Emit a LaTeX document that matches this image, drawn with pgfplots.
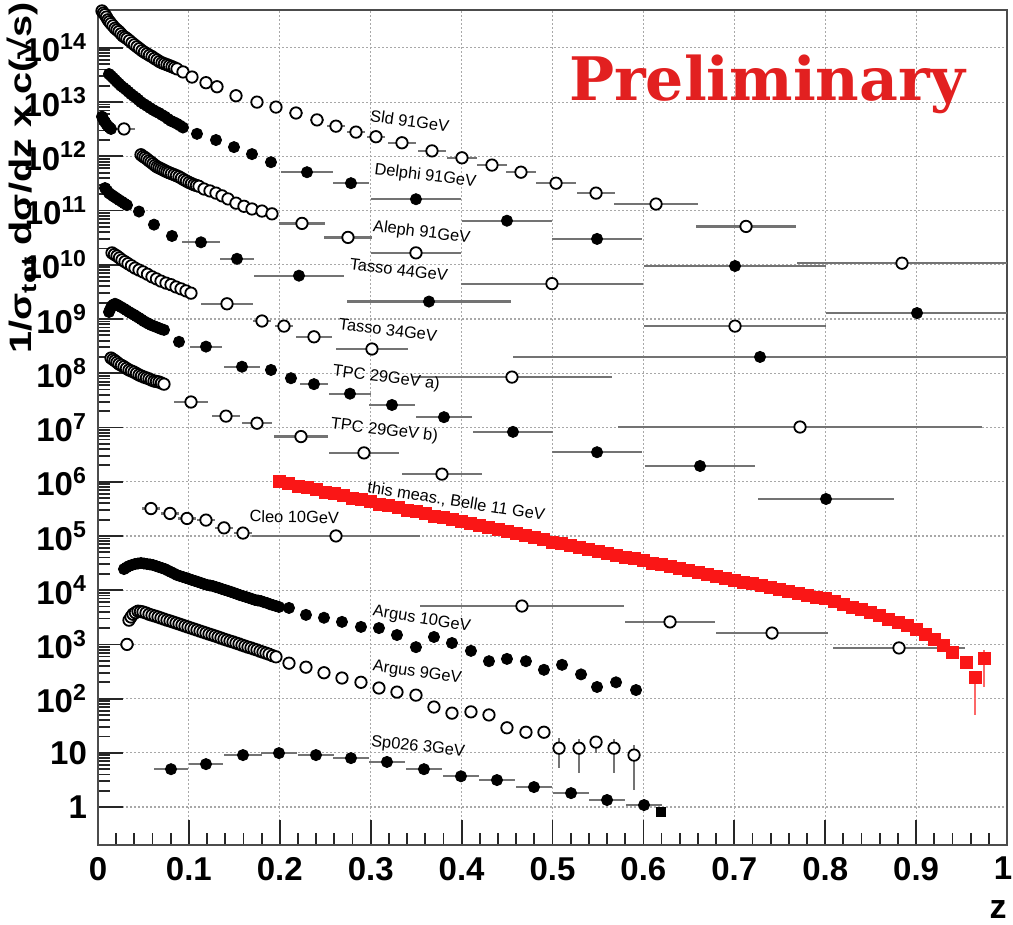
\documentclass[border=0pt]{standalone}
\usepackage{fontspec}
\setmainfont{Liberation Sans}
\newfontfamily\slabfont{DejaVu Serif}
\usepackage{graphicx}
\usepackage{pgfplots}
\pgfplotsset{compat=1.18}

\definecolor{barcol}{gray}{0.45}
\definecolor{bellered}{RGB}{250,22,22}
\definecolor{prelimred}{RGB}{226,32,32}
\definecolor{gridcol}{gray}{0.66}

\pgfplotsset{
  xerrbars/.style={error bars/x dir=both, error bars/x explicit, error bars/error mark=none,
    error bars/error bar style={barcol, line width=1.1pt}},
  opendot/.style={only marks, mark=*, mark size=2.85pt,
    mark options={fill=white, draw=black, line width=0.9pt}, xerrbars},
  filldot/.style={only marks, mark=*, mark size=2.8pt,
    mark options={fill=black, draw=black, line width=0.4pt}, xerrbars},
}
\newcommand\lbl{\fontsize{8.2}{9.6}\selectfont}
\newcommand\bigbf{\fontsize{16.5}{18}\selectfont\bfseries}

\begin{document}
\begin{tikzpicture}
\begin{axis}[
  scale only axis, width=454.5pt, height=417.5pt,
  xmin=0, xmax=1, ymode=log, ymin=0.2, ymax=5e14,
  xtick={0,0.1,0.2,0.3,0.4,0.5,0.6,0.7,0.8,0.9,1},
  xticklabels={0,0.1,0.2,0.3,0.4,0.5,0.6,0.7,0.8,0.9,\hspace*{-4pt}1},
  minor x tick num=4,
  ytick={1,10,100,1e3,1e4,1e5,1e6,1e7,1e8,1e9,1e10,1e11,1e12,1e13,1e14},
  yticklabels={1,10,10\textsuperscript{2},10\textsuperscript{3},10\textsuperscript{4},
    10\textsuperscript{5},10\textsuperscript{6},10\textsuperscript{7},10\textsuperscript{8},
    10\textsuperscript{9},10\textsuperscript{10},10\textsuperscript{11},10\textsuperscript{12},
    10\textsuperscript{13},10\textsuperscript{14}},
  tick pos=left, tick align=inside,
  major tick length=12.5pt, minor tick length=6pt,
  tick style={black!85, line width=0.9pt},
  axis line style={black!70, line width=1.1pt},
  grid=major, major grid style={gridcol, line width=0.6pt, dash pattern=on 1pt off 1pt},
  tick label style={font=\bigbf},
  xticklabel style={yshift=-2.5pt},
  yticklabel style={xshift=-2pt},
]
\coordinate (bbsw) at (rel axis cs:0,0);
\coordinate (bbne) at (rel axis cs:1,1);

% Sld 91 GeV
\addplot[opendot] coordinates {
 (0.0044,4.8e14) (0.0060,4.4e14) (0.0077,4.1e14) (0.0093,3.7e14) (0.0110,3.3e14)
 (0.0126,3.05e14) (0.0143,2.8e14) (0.0165,2.55e14) (0.0187,2.3e14) (0.0209,2.15e14)
 (0.0231,2.0e14) (0.0253,1.82e14) (0.0275,1.66e14) (0.0297,1.57e14) (0.0319,1.48e14)
 (0.0346,1.36e14) (0.0374,1.24e14) (0.0401,1.14e14) (0.0429,1.05e14) (0.0456,9.7e13)
 (0.0484,8.9e13) (0.0511,8.3e13) (0.0539,7.8e13) (0.0566,7.3e13) (0.0594,6.9e13)
 (0.0621,6.4e13) (0.0649,6.0e13) (0.0676,5.6e13) (0.0704,5.3e13) (0.0731,5.1e13)
 (0.0759,4.9e13) (0.0786,4.7e13) (0.0814,4.5e13) (0.0841,4.3e13) (0.0869,4.1e13)
 (0.0935,3.6e13) (0.1034,2.9e13)
 (0.1188,2.28e13) (0.1309,1.92e13) (0.1518,1.31e13) (0.1749,1.0e13) (0.1958,8.1e12)
 (0.2178,6.3e12) +- (0.008,0) (0.2409,4.7e12) +- (0.008,0) (0.2618,3.6e12) +- (0.01,0)
 (0.2838,2.8e12) +- (0.01,0) (0.3058,2.3e12) +- (0.01,0) (0.3344,1.78e12) +- (0.015,0)
 (0.3674,1.26e12) +- (0.015,0) (0.4004,9.4e11) +- (0.017,0) (0.4334,6.9e11) +- (0.016,0)
 (0.4653,5.1e11) +- (0.016,0) (0.5039,3.2e11) +- (0.022,0) (0.5479,2.1e11) +- (0.021,0)
 (0.6139,1.32e11) +- (0.046,0) (0.7129,5.1e10) +- (0.055,0) (0.8845,1.07e10) +- (0.115,0)
};
% Delphi 91 GeV
\addplot[filldot] coordinates {
 (0.0121,3.3e13) (0.0143,3.05e13) (0.0165,2.8e13) (0.0187,2.58e13) (0.0209,2.36e13)
 (0.0231,2.18e13) (0.0253,2.0e13) (0.0280,1.85e13) (0.0308,1.7e13) (0.0335,1.55e13)
 (0.0363,1.41e13) (0.0390,1.3e13) (0.0418,1.2e13) (0.0445,1.1e13) (0.0473,1.0e13)
 (0.0506,9.2e12) (0.0539,8.5e12) (0.0572,7.8e12) (0.0605,7.2e12) (0.0638,6.7e12)
 (0.0671,6.3e12) (0.0704,5.8e12) (0.0737,5.4e12) (0.0770,4.9e12) (0.0803,4.5e12)
 (0.0836,4.25e12) (0.0869,4.0e12) (0.0902,3.7e12) (0.0935,3.4e12)
 (0.1089,2.6e12) (0.1298,2.0e12) (0.1496,1.48e12) (0.1694,1.1e12) (0.1903,7.8e11)
 (0.2299,5.1e11) +- (0.029,0) (0.2783,3.2e11) +- (0.02,0) (0.3498,1.62e11) +- (0.05,0)
 (0.4499,6.5e10) +- (0.05,0) (0.5490,3.0e10) +- (0.05,0) (0.7008,9.5e9) +- (0.1,0)
 (0.9010,1.29e9) +- (0.1,0)
};
% low-z points near 10^12
\addplot[filldot] coordinates {
 (0.0044,5.4e12) (0.0060,4.8e12) (0.0077,4.3e12) (0.0093,3.9e12) (0.0110,3.6e12)
 (0.0126,3.4e12) (0.0143,3.2e12)
};
\addplot[opendot] coordinates { (0.0286,3.2e12) +- (0.012,0) };
% Aleph 91 GeV
\addplot[opendot] coordinates {
 (0.0473,1.07e12) (0.0495,1.0e12) (0.0517,9.5e11) (0.0539,8.9e11) (0.0561,8.3e11)
 (0.0583,7.8e11) (0.0605,7.3e11) (0.0627,6.8e11) (0.0649,6.4e11) (0.0671,6.15e11)
 (0.0693,5.9e11) (0.0715,5.65e11) (0.0737,5.4e11) (0.0759,5.2e11) (0.0781,5.0e11)
 (0.0808,4.8e11) (0.0836,4.6e11) (0.0863,4.4e11) (0.0891,4.2e11) (0.0918,3.95e11)
 (0.0946,3.7e11) (0.0973,3.5e11) (0.1001,3.3e11) (0.1028,3.15e11) (0.1056,3.0e11)
 (0.1083,2.9e11) (0.1111,2.8e11) (0.1166,2.5e11)
 (0.1232,2.3e11) (0.1298,2.1e11) (0.1364,1.87e11) (0.1430,1.64e11) (0.1518,1.37e11)
 (0.1606,1.2e11) (0.1694,1.07e11) (0.1804,9.8e10) (0.1914,8.7e10)
 (0.2244,5.8e10) +- (0.025,0) (0.2750,3.2e10) +- (0.026,0) (0.3498,1.66e10) +- (0.05,0)
 (0.4994,4.5e9) +- (0.1,0) (0.7008,7.4e8) +- (0.1,0)
};
% Tasso 44 GeV
\addplot[filldot] coordinates {
 (0.0077,2.6e11) (0.0099,2.35e11) (0.0121,2.1e11) (0.0143,1.98e11) (0.0165,1.86e11)
 (0.0187,1.76e11) (0.0209,1.66e11) (0.0236,1.55e11) (0.0264,1.45e11) (0.0291,1.35e11)
 (0.0319,1.26e11) (0.0451,9.6e10) (0.0616,5.5e10) (0.0814,3.4e10)
 (0.1133,2.6e10) +- (0.021,0) (0.1529,1.29e10) +- (0.019,0) (0.2211,6.3e9) +- (0.05,0)
 (0.3641,2.1e9) +- (0.09,0) (0.7283,2.0e8) +- (0.272,0)
};
% Tasso 34 GeV
\addplot[opendot] coordinates {
 (0.0154,1.66e10) (0.0181,1.55e10) (0.0209,1.45e10) (0.0236,1.34e10) (0.0264,1.23e10)
 (0.0297,1.14e10) (0.0330,1.05e10) (0.0368,9.6e9) (0.0407,8.7e9) (0.0451,8.0e9)
 (0.0495,7.4e9) (0.0544,6.7e9) (0.0594,6.0e9) (0.0643,5.5e9) (0.0693,5.0e9)
 (0.0748,4.6e9) (0.0803,4.3e9) (0.0858,3.9e9) (0.0913,3.6e9) (0.0968,3.3e9)
 (0.1023,3.0e9) (0.1419,1.91e9) +- (0.029,0) (0.1804,9.2e8) +- (0.01,0)
 (0.2046,7.4e8) +- (0.01,0) (0.2376,4.7e8) +- (0.02,0) (0.3014,2.8e8) +- (0.04,0)
 (0.4554,8.5e7) +- (0.11,0) (0.7723,1.02e7) +- (0.2,0)
};
% TPC 29 GeV a)
\addplot[filldot] coordinates {
 (0.0121,1.35e9) (0.0137,1.55e9) (0.0154,1.74e9) (0.0170,1.84e9) (0.0187,1.91e9)
 (0.0209,1.84e9) (0.0231,1.74e9) (0.0258,1.65e9) (0.0286,1.55e9) (0.0313,1.45e9)
 (0.0341,1.35e9) (0.0368,1.27e9) (0.0396,1.2e9) (0.0423,1.12e9) (0.0451,1.05e9)
 (0.0478,9.8e8) (0.0506,9.1e8) (0.0533,8.6e8) (0.0561,8.1e8) (0.0588,7.7e8)
 (0.0616,7.4e8) (0.0643,7.1e8) (0.0671,6.8e8) (0.0698,6.5e8) (0.0726,6.3e8)
 (0.0891,3.8e8)
 (0.1188,3.1e8) +- (0.018,0) (0.1584,1.32e8) +- (0.02,0) (0.1903,1.15e8) (0.2123,8.1e7)
 (0.2376,6.3e7) +- (0.015,0) (0.2772,4.2e7) +- (0.023,0) (0.3234,2.6e7) +- (0.025,0)
 (0.3806,1.55e7) +- (0.031,0) (0.4565,8.3e6) +- (0.044,0) (0.5490,3.5e6) +- (0.05,0)
 (0.6623,1.95e6) +- (0.06,0) (0.8009,4.8e5) +- (0.075,0)
};
% TPC 29 GeV b)
\addplot[opendot] coordinates {
 (0.0143,1.91e8) (0.0165,1.8e8) (0.0187,1.7e8) (0.0209,1.59e8) (0.0231,1.48e8)
 (0.0258,1.4e8) (0.0286,1.32e8) (0.0313,1.23e8) (0.0341,1.15e8) (0.0368,1.1e8)
 (0.0396,1.05e8) (0.0423,9.9e7) (0.0451,9.3e7) (0.0478,8.9e7) (0.0506,8.5e7)
 (0.0533,8.2e7) (0.0561,7.9e7) (0.0588,7.5e7) (0.0616,7.2e7) (0.0643,7.05e7)
 (0.0671,6.9e7) (0.0698,6.6e7) (0.0726,6.3e7)
 (0.1023,2.95e7) +- (0.019,0) (0.1408,1.62e7) +- (0.015,0) (0.1749,1.2e7) +- (0.017,0)
 (0.2233,6.8e6) +- (0.03,0) (0.2926,3.4e6) +- (0.038,0) (0.3784,1.38e6) +- (0.044,0)
};
% Cleo 10 GeV
\addplot[opendot] coordinates {
 (0.0583,3.2e5) +- (0.01,0) (0.0792,2.6e5) +- (0.01,0) (0.0979,2.1e5) +- (0.01,0)
 (0.1188,1.96e5) +- (0.01,0) (0.1386,1.41e5) +- (0.01,0) (0.1595,1.13e5) +- (0.01,0)
 (0.2618,1.0e5) +- (0.092,0) (0.4664,5.1e3) +- (0.112,0) (0.6293,2.6e3) +- (0.05,0)
 (0.7415,1.62e3) +- (0.062,0) (0.8812,8.6e2) +- (0.073,0)
};
% Argus 10 GeV
\addplot[filldot] coordinates {
 (0.0286,2.45e4) (0.0313,2.62e4) (0.0341,2.79e4) (0.0374,2.92e4) (0.0407,3.04e4)
 (0.0440,3.1e4) (0.0473,3.17e4) (0.0506,3.1e4) (0.0539,3.04e4) (0.0572,2.98e4)
 (0.0605,2.91e4) (0.0638,2.79e4) (0.0671,2.67e4) (0.0704,2.56e4) (0.0737,2.45e4)
 (0.0770,2.3e4) (0.0803,2.16e4) (0.0836,2.03e4) (0.0869,1.9e4) (0.0902,1.82e4)
 (0.0935,1.75e4) (0.0968,1.68e4) (0.1001,1.61e4) (0.1034,1.54e4) (0.1067,1.48e4)
 (0.1100,1.42e4) (0.1133,1.36e4) (0.1166,1.3e4) (0.1199,1.25e4) (0.1232,1.22e4)
 (0.1265,1.19e4) (0.1298,1.14e4) (0.1331,1.1e4) (0.1364,1.05e4) (0.1397,1.01e4)
 (0.1430,9.7e3) (0.1463,9.3e3) (0.1496,8.9e3) (0.1529,8.5e3) (0.1562,8.1e3)
 (0.1595,7.8e3) (0.1628,7.5e3) (0.1661,7.2e3) (0.1694,6.9e3) (0.1727,6.6e3)
 (0.1760,6.45e3) (0.1793,6.3e3) (0.1826,6.0e3) (0.1859,5.8e3) (0.1892,5.5e3)
 (0.1925,5.3e3) (0.1958,5.1e3) (0.1991,4.9e3) (0.2101,4.7e3) (0.2288,3.5e3)
 (0.2486,3.1e3) (0.2684,2.6e3) (0.2893,2.1e3) (0.3091,2.0e3) (0.3289,1.49e3)
 (0.3498,8.9e2) (0.3696,1.37e3) (0.3894,1.06e3) (0.4103,7.6e2) (0.4301,4.9e2)
 (0.4499,5.4e2) (0.4708,4.9e2) (0.4906,3.4e2) (0.5105,4.2e2) (0.5314,2.8e2)
 (0.5490,1.64e2) (0.5699,2.0e2) (0.5919,1.44e2)
};
% Argus 9 GeV
\addplot[opendot] coordinates { (0.0319,1.0e3) +- (0.008,0) };
\addplot[opendot] coordinates {
 (0.0341,2.8e3) (0.0363,3.2e3) (0.0385,3.6e3) (0.0412,3.85e3) (0.0440,4.1e3)
 (0.0467,4.05e3) (0.0495,3.96e3) (0.0528,3.8e3) (0.0561,3.6e3) (0.0594,3.46e3)
 (0.0627,3.33e3) (0.0660,3.2e3) (0.0693,3.06e3) (0.0726,2.93e3) (0.0759,2.8e3)
 (0.0792,2.7e3) (0.0825,2.59e3) (0.0858,2.48e3) (0.0891,2.38e3) (0.0924,2.28e3)
 (0.0957,2.18e3) (0.0990,2.09e3) (0.1023,2.0e3) (0.1056,1.92e3) (0.1089,1.84e3)
 (0.1122,1.76e3) (0.1155,1.69e3) (0.1188,1.62e3) (0.1221,1.55e3) (0.1254,1.49e3)
 (0.1287,1.43e3) (0.1320,1.37e3) (0.1353,1.31e3) (0.1386,1.25e3) (0.1419,1.2e3)
 (0.1452,1.15e3) (0.1485,1.11e3) (0.1518,1.06e3) (0.1551,1.02e3) (0.1584,9.7e2)
 (0.1617,9.3e2) (0.1650,8.9e2) (0.1683,8.6e2) (0.1716,8.2e2) (0.1749,7.9e2)
 (0.1782,7.5e2) (0.1815,7.2e2) (0.1848,6.9e2) (0.1881,6.6e2) (0.1920,6.2e2)
 (0.1958,5.9e2) (0.2101,4.5e2) (0.2288,3.8e2) (0.2486,3.0e2) (0.2684,2.4e2)
 (0.2893,2.0e2) (0.3091,1.57e2) (0.3289,1.32e2) (0.3498,1.16e2) (0.3696,70)
 (0.3894,54) (0.4103,57) (0.4301,50) (0.4499,29) (0.4708,24) (0.4906,24)
};
\addplot[opendot, error bars/y dir=both, error bars/y explicit] coordinates {
 (0.5072,12.2) += (0,6.5) -= (0,7.0)
 (0.5292,12.2) += (0,6.0) -= (0,8.0)
 (0.5479,15.8) += (0,4.0) -= (0,6.0)
 (0.5677,12.2) += (0,6.0) -= (0,8.0)
 (0.5897,9.1) += (0,5.0) -= (0,7.0)
};
% Sp026 3 GeV
\addplot[filldot] coordinates {
 (0.0803,5.0) +- (0.019,0) (0.1188,6.2) +- (0.019,0) (0.1595,9.1) +- (0.021,0)
 (0.1991,9.9) +- (0.02,0) (0.2398,9.1) +- (0.02,0) (0.2783,8.0) +- (0.02,0)
 (0.3179,6.8) +- (0.02,0) (0.3586,5.0) +- (0.02,0) (0.3993,3.7) +- (0.02,0)
 (0.4389,3.15) +- (0.02,0) (0.4796,2.34) +- (0.02,0) (0.5204,1.81) +- (0.02,0)
 (0.5600,1.35) +- (0.02,0) (0.6007,1.09) +- (0.02,0)
};
\addplot[only marks, mark=square*, mark size=2.3pt, mark options={fill=black, draw=black}]
 coordinates { (0.6194,0.81) };

% this measurement, Belle 11 GeV
\addplot[only marks, mark=square*, mark size=3.0pt, mark options={fill=bellered, draw=bellered},
  error bars/y dir=both, error bars/y explicit, error bars/error mark=none,
  error bars/error bar style={bellered!65!white, line width=0.8pt}] coordinates {
 (0.20,1.00e6) (0.21,9.12e5) (0.22,8.32e5) (0.23,7.76e5) (0.24,7.08e5)
 (0.25,6.46e5) (0.26,6.03e5) (0.27,5.50e5) (0.28,5.01e5) (0.29,4.68e5)
 (0.30,4.27e5) (0.31,3.89e5) (0.32,3.63e5) (0.33,3.31e5) (0.34,3.02e5)
 (0.35,2.82e5) (0.36,2.57e5) (0.37,2.34e5) (0.38,2.19e5) (0.39,2.00e5)
 (0.40,1.82e5) (0.41,1.70e5) (0.42,1.55e5) (0.43,1.41e5) (0.44,1.32e5)
 (0.45,1.20e5) (0.46,1.10e5) (0.47,1.02e5) (0.48,9.33e4) (0.49,8.51e4)
 (0.50,7.76e4) (0.51,7.24e4) (0.52,6.61e4) (0.53,6.17e4) (0.54,5.62e4)
 (0.55,5.25e4) (0.56,4.79e4) (0.57,4.47e4) (0.58,4.07e4) (0.59,3.80e4)
 (0.60,3.47e4) (0.61,3.16e4) (0.62,2.95e4) (0.63,2.69e4) (0.64,2.51e4)
 (0.65,2.29e4) (0.66,2.14e4) (0.67,1.95e4) (0.68,1.82e4) (0.69,1.66e4)
 (0.70,1.51e4) (0.71,1.41e4) (0.72,1.32e4) (0.73,1.20e4) (0.74,1.12e4)
 (0.75,1.02e4) (0.76,9.55e3) (0.77,8.71e3) (0.78,8.13e3) (0.79,7.41e3)
 (0.80,6.92e3) (0.81,6.17e3) (0.82,5.50e3) (0.83,4.90e3) (0.84,4.37e3)
 (0.85,3.89e3) (0.86,3.39e3) (0.87,2.95e3) (0.88,2.57e3) (0.89,2.24e3)
 (0.90,1.91e3) (0.91,1.55e3) (0.92,1.26e3) (0.93,977) (0.94,724)
 (0.955,473) (0.965,250) += (0,80) -= (0,200) (0.975,562) += (0,225) -= (0,398)
};

% series labels
\node[rotate=-8, font=\lbl] at (rel axis cs:0.343,0.867) {Sld 91GeV};
\node[rotate=-7, font=\lbl] at (rel axis cs:0.360,0.801) {Delphi 91GeV};
\node[rotate=-7, font=\lbl] at (rel axis cs:0.356,0.733) {Aleph 91GeV};
\node[rotate=-7, font=\lbl] at (rel axis cs:0.331,0.689) {Tasso 44GeV};
\node[rotate=-7, font=\lbl] at (rel axis cs:0.319,0.617) {Tasso 34GeV};
\node[rotate=-7, font=\lbl] at (rel axis cs:0.317,0.559) {TPC 29GeV a)};
\node[rotate=-7, font=\lbl] at (rel axis cs:0.315,0.496) {TPC 29GeV b)};
\node[rotate=-9, font=\lbl] at (rel axis cs:0.394,0.411) {this meas., Belle 11 GeV};
\node[rotate=-1, font=\lbl] at (rel axis cs:0.216,0.393) {Cleo 10GeV};
\node[rotate=-9, font=\lbl] at (rel axis cs:0.356,0.270) {Argus 10GeV};
\node[rotate=-8, font=\lbl] at (rel axis cs:0.351,0.206) {Argus 9GeV};
\node[rotate=-6, font=\lbl] at (rel axis cs:0.352,0.117) {Sp026 3GeV};

\node[anchor=base, font=\slabfont\bfseries\fontsize{30}{32}\selectfont, text=prelimred]
  at (rel axis cs:0.736,0.892) {Preliminary};
\end{axis}

\node[rotate=90, anchor=base east, font=\fontsize{15.5}{17}\selectfont\bfseries, inner sep=0pt]
  at ([xshift=-33pt, yshift=4pt]bbsw |- bbne)
  {\scalebox{1.28}[1]{1/σ\textsubscript{tot} dσ/dz x c(√s)}};
\node[anchor=base east, font=\fontsize{17}{18}\selectfont\bfseries, inner sep=0pt]
  at ([yshift=-37pt]bbsw -| bbne) {z};

\pgfresetboundingbox
\path[use as bounding box] ([shift={(-49pt,-40pt)}]bbsw) rectangle ([shift={(3pt,5pt)}]bbne);
\end{tikzpicture}
\end{document}
